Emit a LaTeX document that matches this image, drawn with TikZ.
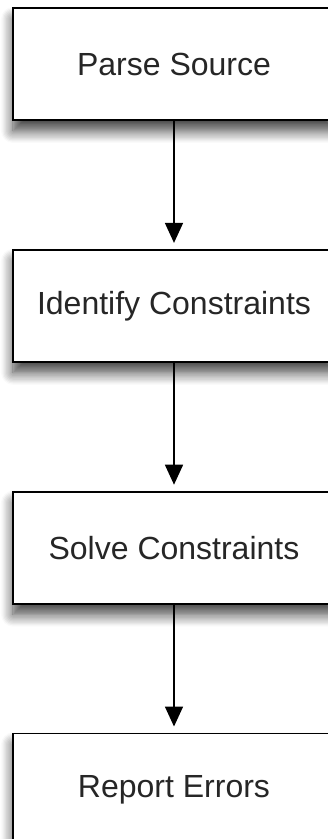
\documentclass[tikz,border=0pt]{standalone}
\usepackage{fontspec}
\setmainfont{Liberation Sans}
\usetikzlibrary{positioning, arrows.meta, shadows.blur}

\begin{document}
\begin{tikzpicture}[
    stage/.style={draw, rectangle, fill=white, line width=0.9pt,
        minimum width=161pt, minimum height=56pt, inner sep=0pt,
        font=\fontsize{16}{19}\selectfont, text=black!85,
        blur shadow={shadow xshift=0pt, shadow yshift=-5.5pt,
            shadow blur radius=6pt, shadow blur steps=10,
            shadow opacity=75}},
    flow/.style={-{Triangle[width=9pt, length=10pt]}, line width=0.8pt,
        shorten >=3pt},
    node distance=64pt
]

    % Fix the frame to the reference size
    \useasboundingbox (0,0) rectangle (163.5pt,-419.5pt);

    % The four stages, top to bottom
    \node[stage] (parse) at (87pt,-32pt) {Parse Source};
    \node[stage, below=of parse] (identify) {Identify Constraints};
    \node[stage, below=of identify] (solve) {Solve Constraints};
    \node[stage, below=of solve] (report) {Report Errors};

    % Arrows between the stages
    \draw[flow] (parse) -- (identify);
    \draw[flow] (identify) -- (solve);
    \draw[flow] (solve) -- (report);

\end{tikzpicture}
\end{document}
